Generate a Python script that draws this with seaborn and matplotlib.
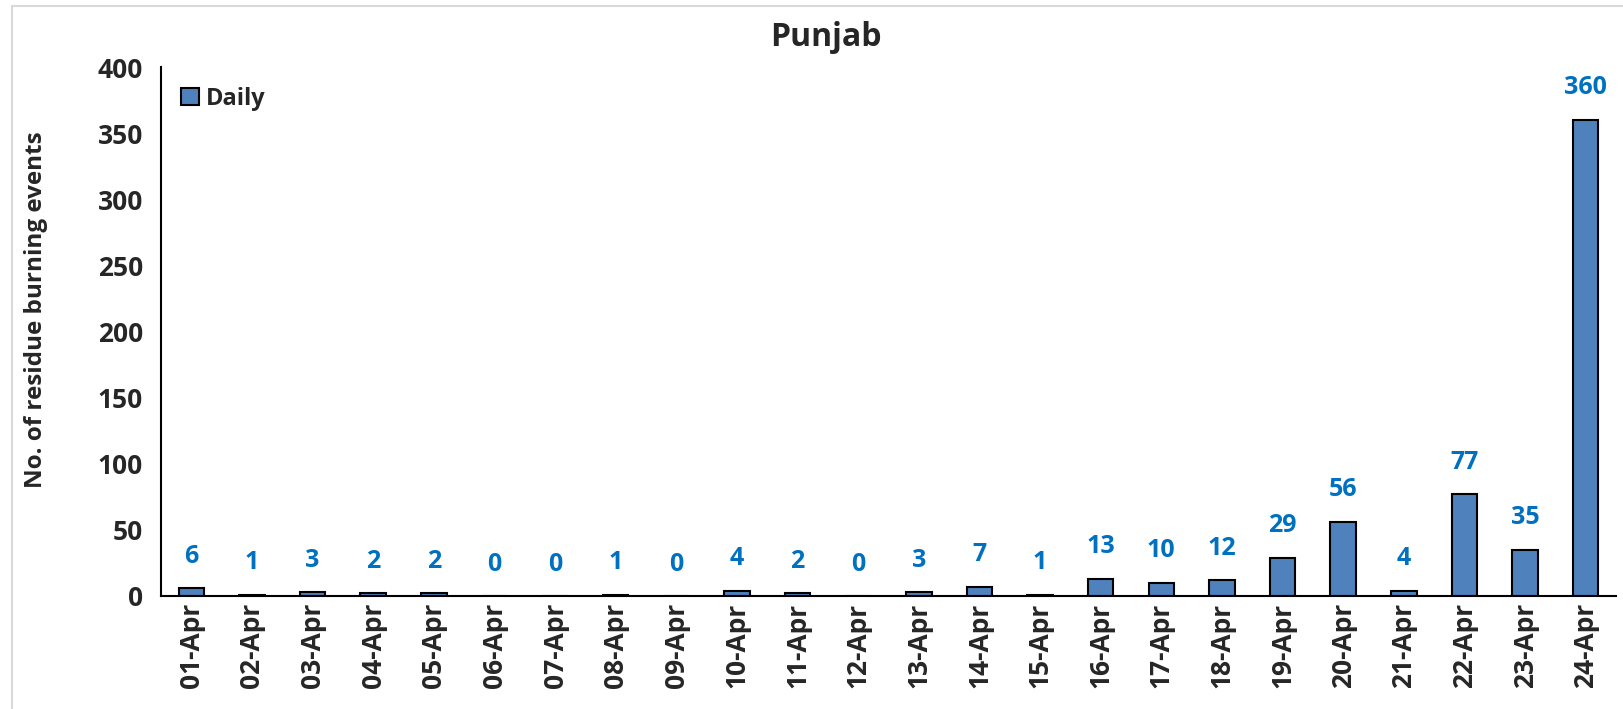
import matplotlib
matplotlib.use("Agg")
import matplotlib.pyplot as plt
import seaborn as sns
import pandas as pd
from matplotlib.lines import Line2D

dates = ["01-Apr", "02-Apr", "03-Apr", "04-Apr", "05-Apr", "06-Apr", "07-Apr", "08-Apr",
         "09-Apr", "10-Apr", "11-Apr", "12-Apr", "13-Apr", "14-Apr", "15-Apr", "16-Apr",
         "17-Apr", "18-Apr", "19-Apr", "20-Apr", "21-Apr", "22-Apr", "23-Apr", "24-Apr"]
daily = [6, 1, 3, 2, 2, 0, 0, 1, 0, 4, 2, 0, 3, 7, 1, 13, 10, 12, 29, 56, 4, 77, 35, 360]
series_name = "Daily"
title = "Punjab"
ylabel = "No. of residue burning events"
yticks = [0, 50, 100, 150, 200, 250, 300, 350, 400]

sns.set_style("white")
plt.rcParams["font.family"] = ["Open Sans", "DejaVu Sans"]
plt.rcParams["font.weight"] = "bold"

df = pd.DataFrame({"date": dates, "count": daily, "series": series_name})

W, H = 1624, 709
fig = plt.figure(figsize=(W / 100, H / 100), dpi=100)
ax = fig.add_axes([161 / W, 1 - 596 / H, (1616 - 161) / W, (596 - 67) / H])

sns.barplot(data=df, x="date", y="count", hue="series", palette=["#4F81BD"],
            saturation=1, width=0.42, edgecolor="black", linewidth=1.5, ax=ax, legend=True)

for c in ax.containers:
    ax.bar_label(c, padding=14, color="#0070C0", fontweight="bold", fontsize=18)

ax.set_xlim(-0.5, len(dates) - 0.5)
ax.set_ylim(yticks[0], yticks[-1])
ax.set_yticks(yticks)
ax.set_yticklabels([str(v) for v in yticks], fontsize=19, fontweight="bold")

# Excel-style: tick marks between categories, labels at centers
ax.set_xticks([i - 0.5 for i in range(len(dates) + 1)])
ax.set_xticklabels([])
ax.set_xticks(list(range(len(dates))), minor=True)
ax.set_xticklabels(dates, minor=True, rotation=90, fontsize=19, fontweight="bold")
ax.tick_params(axis="x", which="major", direction="out", length=7, width=1.5, color="black")
ax.tick_params(axis="x", which="minor", length=0, pad=5)
ax.tick_params(axis="y", direction="out", length=8, width=1.5, color="black", pad=5)

ax.set_xlabel("")
ax.set_ylabel("")
for s in ["top", "right"]:
    ax.spines[s].set_visible(False)
for s in ["left", "bottom"]:
    ax.spines[s].set_linewidth(1.5)
    ax.spines[s].set_color("black")

leg = ax.legend(loc="upper left", bbox_to_anchor=(0.0137, 0.963), frameon=False,
                borderaxespad=0, borderpad=0,
                handlelength=0.75, handleheight=0.75, handletextpad=0.3,
                prop={"weight": "bold", "size": 17})

fig.text(826 / W, 1 - 37 / H, title, ha="center", va="center", fontsize=23, fontweight="bold")
fig.text(36 / W, 1 - 310 / H, ylabel, ha="center", va="center", rotation=90,
         fontsize=17.5, fontweight="bold")

# light gray chart-area border (top and left visible)
fig.add_artist(Line2D([12 / W, 12 / W], [0, 1 - 6 / H], transform=fig.transFigure,
                      color="#D9D9D9", linewidth=1.5))
fig.add_artist(Line2D([12 / W, 1], [1 - 6 / H, 1 - 6 / H], transform=fig.transFigure,
                      color="#D9D9D9", linewidth=1.5))

fig.savefig("out.png", dpi=100)
